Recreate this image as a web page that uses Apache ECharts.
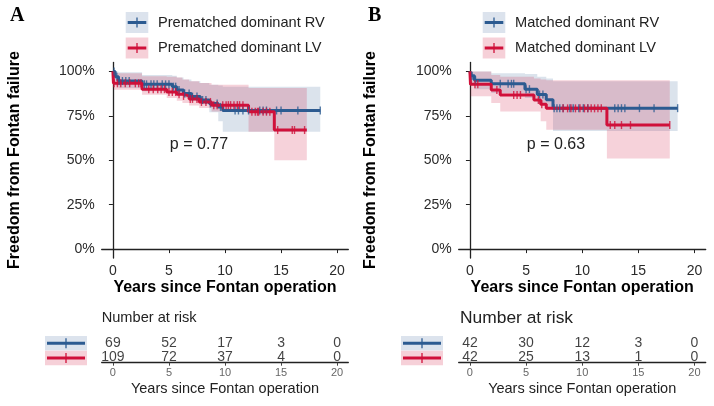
<!DOCTYPE html>
<html>
<head>
<meta charset="utf-8">
<script src="https://cdn.jsdelivr.net/npm/echarts@6/dist/echarts.min.js"></script>
<style>
  html, body { margin: 0; padding: 0; background: #fff; }
  #main { width: 714px; height: 406px; }
</style>
</head>
<body>
<div id="main"></div>
<script>
// ---- panel A : prematched ----
const aRvTime  = [0, 0.2, 0.5, 2.6, 5.3, 5.7, 6.3, 7.0, 7.8, 8.6, 9.4, 9.8];
const aRvSurv  = [1, 0.97, 0.946, 0.927, 0.914, 0.895, 0.876, 0.858, 0.839, 0.82, 0.80, 0.78];
const aRvUpper = [1, 1, 0.995, 0.98, 0.975, 0.965, 0.955, 0.945, 0.935, 0.925, 0.92, 0.914];
const aRvLower = [1, 0.92, 0.907, 0.888, 0.875, 0.865, 0.85, 0.835, 0.815, 0.77, 0.72, 0.66];
const aRvEnd = 18.5;
const aRvCensor = [0.1, 0.35, 0.55, 0.85, 1.15, 1.45, 2.8, 3.0, 3.4, 3.65, 3.95, 4.4, 4.7, 5.0, 5.4, 5.6, 5.9, 6.4, 6.8, 7.1, 7.5, 8.0, 8.3, 8.7, 9.3, 9.6, 10.9, 11.2, 11.6, 12.1, 13.1, 13.4, 13.7, 14.6, 15.0, 16.5, 18.5];

const aLvTime  = [0, 0.05, 2.6, 4.8, 5.7, 6.2, 6.8, 7.7, 8.8, 12.1, 14.4];
const aLvSurv  = [1, 0.933, 0.90, 0.884, 0.872, 0.862, 0.845, 0.828, 0.81, 0.773, 0.67];
const aLvUpper = [1, 0.99, 0.972, 0.97, 0.965, 0.955, 0.944, 0.935, 0.925, 0.907, 0.907];
const aLvLower = [1, 0.897, 0.869, 0.85, 0.835, 0.822, 0.808, 0.794, 0.775, 0.66, 0.50];
const aLvEnd = 17.3;
const aLvCensor = [0.1, 0.4, 0.7, 1.1, 1.5, 2.0, 2.3, 2.5, 3.2, 3.6, 4.0, 4.3, 4.6, 5.0, 5.3, 5.6, 5.9, 6.3, 6.9, 7.1, 7.5, 7.9, 8.3, 8.7, 9.0, 9.3, 9.8, 10.1, 10.3, 10.5, 10.8, 11.1, 11.3, 11.6, 12.4, 12.7, 12.9, 13.0, 13.4, 13.7, 14.0, 14.7, 16.0, 16.2, 17.1];

// ---- panel B : matched ----
const bRvTime  = [0, 0.1, 0.4, 1.9, 4.9, 6.0, 6.8, 7.4];
const bRvSurv  = [1, 0.975, 0.95, 0.93, 0.90, 0.87, 0.84, 0.793];
const bRvUpper = [1, 1, 1, 0.99, 0.985, 0.97, 0.96, 0.945];
const bRvLower = [1, 0.925, 0.9, 0.878, 0.85, 0.82, 0.785, 0.665];
const bRvEnd = 18.5;
const bRvCensor = [0.2, 0.5, 2.7, 3.4, 3.7, 3.9, 5.0, 5.3, 6.2, 6.5, 7.5, 7.75, 8.0, 8.3, 8.9, 9.2, 9.7, 10.1, 10.5, 12.9, 13.2, 13.5, 13.8, 15.1, 16.4, 18.5];

const bLvTime  = [0, 0.05, 1.9, 2.7, 5.7, 6.3, 6.8, 12.2];
const bLvSurv  = [1, 0.927, 0.895, 0.867, 0.839, 0.815, 0.792, 0.698];
const bLvUpper = [1, 1, 0.98, 0.97, 0.96, 0.955, 0.95, 0.95];
const bLvLower = [1, 0.86, 0.822, 0.775, 0.775, 0.72, 0.672, 0.51];
const bLvEnd = 17.8;
const bLvCensor = [0.45, 0.7, 2.4, 3.9, 4.2, 4.5, 6.1, 6.4, 8.3, 8.7, 9.0, 9.4, 9.8, 10.2, 10.5, 10.8, 11.1, 11.4, 11.7, 12.5, 12.9, 13.5, 14.3, 17.8];

// ---- number at risk ----
const riskYears = [0, 5, 10, 15, 20];
const aRvRisk = [69, 52, 17, 3, 0];
const aLvRisk = [109, 72, 37, 4, 0];
const bRvRisk = [42, 30, 12, 3, 0];
const bLvRisk = [42, 25, 13, 1, 0];

const xTicks = [0, 5, 10, 15, 20];
const yTicks = [0, 0.25, 0.5, 0.75, 1];

const BLUE = '#2c5b91', RED = '#d0103a';
const BLUE_BAND = 'rgba(44,91,145,0.17)', RED_BAND = 'rgba(208,16,58,0.19)';
const BLUE_BOX = '#dce3ed', RED_BOX = '#f6d0d8';
const FONT = 'Liberation Sans';

function survAt(times, surv, t) {
  let s = surv[0];
  for (let i = 0; i < times.length; i++) if (times[i] <= t) s = surv[i];
  return s;
}
function stepLine(times, surv, end) {
  return times.map((t, i) => [t, surv[i]]).concat([[end, surv[surv.length - 1]]]);
}
function censorPts(cens, times, surv) {
  return cens.map(t => [t, survAt(times, surv, t)]);
}

function bandSeries(times, lower, upper, end, color, idx) {
  return {
    type: 'custom', xAxisIndex: idx, yAxisIndex: idx, silent: true, z: 1,
    data: [[0, 0]],
    renderItem: function (params, api) {
      const pts = [];
      for (let i = 0; i < times.length; i++) {
        const t1 = i < times.length - 1 ? times[i + 1] : end;
        pts.push(api.coord([times[i], upper[i]]), api.coord([t1, upper[i]]));
      }
      for (let i = times.length - 1; i >= 0; i--) {
        const t1 = i < times.length - 1 ? times[i + 1] : end;
        pts.push(api.coord([t1, lower[i]]), api.coord([times[i], lower[i]]));
      }
      return { type: 'polygon', shape: { points: pts }, style: { fill: color } };
    }
  };
}
function lineSeries(times, surv, end, color, idx, z) {
  return {
    type: 'line', xAxisIndex: idx, yAxisIndex: idx, step: 'end', showSymbol: false, silent: true, z: z,
    data: stepLine(times, surv, end),
    lineStyle: { color: color, width: 3 }
  };
}
function censorSeries(cens, times, surv, color, idx, z) {
  return {
    type: 'scatter', xAxisIndex: idx, yAxisIndex: idx, silent: true, z: z,
    symbol: 'rect', symbolSize: [1.4, 8],
    itemStyle: { color: color },
    data: censorPts(cens, times, surv)
  };
}
function riskSeries(vals, row, idx) {
  return {
    type: 'scatter', xAxisIndex: idx, yAxisIndex: idx, silent: true, symbolSize: 0,
    data: riskYears.map((y, i) => [y, row, vals[i]]),
    label: { show: true, position: 'inside', formatter: p => p.value[2],
             fontFamily: FONT, fontSize: 14, color: '#111' }
  };
}

function mainX(gi) {
  return {
    type: 'value', gridIndex: gi, min: -1, max: 21,
    axisLine: { show: true, lineStyle: { color: '#222', width: 1.3 } },
    axisTick: { show: true, customValues: xTicks, length: 4, lineStyle: { color: '#222' } },
    axisLabel: { customValues: xTicks, fontFamily: FONT, fontSize: 14, color: '#2a2a2a', margin: 6 },
    splitLine: { show: false },
    name: 'Years since Fontan operation', nameLocation: 'middle', nameGap: 30,
    nameTextStyle: { fontFamily: FONT, fontSize: 16, fontWeight: 'bold', color: '#000', verticalAlign: 'middle' }
  };
}
function mainY(gi) {
  return {
    type: 'value', gridIndex: gi, min: -0.05, max: 1.05,
    axisLine: { show: true, lineStyle: { color: '#222', width: 1.3 } },
    axisTick: { show: true, customValues: yTicks, length: 4, lineStyle: { color: '#222' } },
    axisLabel: { customValues: yTicks, formatter: v => Math.round(v * 100) + '%',
                 fontFamily: FONT, fontSize: 14, color: '#2a2a2a', margin: 7 },
    splitLine: { show: false }
  };
}
function riskX(gi) {
  return {
    type: 'value', gridIndex: gi, min: -1, max: 21,
    axisLine: { show: true, lineStyle: { color: '#222', width: 1.3 } },
    axisTick: { show: true, customValues: xTicks, length: 3, lineStyle: { color: '#444' } },
    axisLabel: { customValues: xTicks, fontFamily: FONT, fontSize: 11, color: '#666', margin: 5 },
    splitLine: { show: false },
    name: 'Years since Fontan operation', nameLocation: 'middle', nameGap: 26,
    nameTextStyle: { fontFamily: FONT, fontSize: 14.5, color: '#222', verticalAlign: 'middle' }
  };
}
function riskY(gi) {
  return { type: 'value', gridIndex: gi, min: 0, max: 1, show: false };
}

function legendIcon(x, y, w, h, fill, color) {
  const cy = y + h / 2;
  return [
    { type: 'rect', shape: { x: x, y: y, width: w, height: h }, style: { fill: fill } },
    { type: 'line', shape: { x1: x + 2, y1: cy, x2: x + w - 2, y2: cy }, style: { stroke: color, lineWidth: 3 } },
    { type: 'line', shape: { x1: x + w / 2, y1: cy - 5, x2: x + w / 2, y2: cy + 5 }, style: { stroke: color, lineWidth: 1.3 } }
  ];
}
function text(x, y, s, size, opts) {
  return Object.assign({ type: 'text', x: x, y: y,
    style: Object.assign({ text: s, fontFamily: FONT, fontSize: size, fill: '#222',
                           align: 'left', verticalAlign: 'middle' }, (opts && opts.style) || {}) },
    opts && opts.rotation !== undefined ? { rotation: opts.rotation } : {});
}

const graphics = [].concat(
  legendIcon(125.7, 12, 22.6, 21, BLUE_BOX, BLUE),
  legendIcon(125.7, 37.5, 22.6, 21, RED_BOX, RED),
  legendIcon(482.7, 12, 22.6, 21, BLUE_BOX, BLUE),
  legendIcon(482.7, 37.5, 22.6, 21, RED_BOX, RED),
  legendIcon(45, 336, 42, 14.5, BLUE_BOX, BLUE),
  legendIcon(45, 350.7, 42, 14.5, RED_BOX, RED),
  legendIcon(401, 336, 42, 14.5, BLUE_BOX, BLUE),
  legendIcon(401, 350.7, 42, 14.5, RED_BOX, RED),
  [
    text(158, 22.5, 'Prematched dominant RV', 14.6),
    text(158, 48, 'Prematched dominant LV', 14.6),
    text(515, 22.5, 'Matched dominant RV', 14.6),
    text(515, 48, 'Matched dominant LV', 14.6),
    text(10, 16, 'A', 20, { style: { fontFamily: 'Liberation Serif', fontWeight: 'bold', fill: '#000' } }),
    text(368, 16, 'B', 20, { style: { fontFamily: 'Liberation Serif', fontWeight: 'bold', fill: '#000' } }),
    text(14.5, 160, 'Freedom from Fontan failure', 16,
         { rotation: Math.PI / 2, style: { align: 'center', fontWeight: 'bold', fill: '#000' } }),
    text(371, 160, 'Freedom from Fontan failure', 16,
         { rotation: Math.PI / 2, style: { align: 'center', fontWeight: 'bold', fill: '#000' } }),
    text(199, 145, 'p = 0.77', 16, { style: { align: 'center' } }),
    text(556, 145, 'p = 0.63', 16, { style: { align: 'center' } }),
    text(101.7, 318, 'Number at risk', 14.6),
    text(460, 318, 'Number at risk', 17.4)
  ]
);

const chart = echarts.init(document.getElementById('main'), null, { renderer: 'canvas' });
chart.setOption({
  animation: false,
  backgroundColor: '#fff',
  grid: [
    { left: 101.7, top: 62.5, width: 246.6, height: 195.5 },
    { left: 458.7, top: 62.5, width: 247, height: 195.5 },
    { left: 101.7, top: 336, width: 246.6, height: 26.7 },
    { left: 458.7, top: 336, width: 247, height: 26.7 }
  ],
  xAxis: [mainX(0), mainX(1), riskX(2), riskX(3)],
  yAxis: [mainY(0), mainY(1), riskY(2), riskY(3)],
  graphic: graphics,
  series: [
    bandSeries(aRvTime, aRvLower, aRvUpper, aRvEnd, BLUE_BAND, 0),
    bandSeries(aLvTime, aLvLower, aLvUpper, aLvEnd, RED_BAND, 0),
    lineSeries(aRvTime, aRvSurv, aRvEnd, BLUE, 0, 3),
    lineSeries(aLvTime, aLvSurv, aLvEnd, RED, 0, 4),
    censorSeries(aRvCensor, aRvTime, aRvSurv, BLUE, 0, 5),
    censorSeries(aLvCensor, aLvTime, aLvSurv, RED, 0, 6),

    bandSeries(bRvTime, bRvLower, bRvUpper, bRvEnd, BLUE_BAND, 1),
    bandSeries(bLvTime, bLvLower, bLvUpper, bLvEnd, RED_BAND, 1),
    lineSeries(bRvTime, bRvSurv, bRvEnd, BLUE, 1, 3),
    lineSeries(bLvTime, bLvSurv, bLvEnd, RED, 1, 4),
    censorSeries(bRvCensor, bRvTime, bRvSurv, BLUE, 1, 5),
    censorSeries(bLvCensor, bLvTime, bLvSurv, RED, 1, 6),

    riskSeries(aRvRisk, 0.75, 2),
    riskSeries(aLvRisk, 0.2, 2),
    riskSeries(bRvRisk, 0.75, 3),
    riskSeries(bLvRisk, 0.2, 3)
  ]
});
</script>
</body>
</html>
